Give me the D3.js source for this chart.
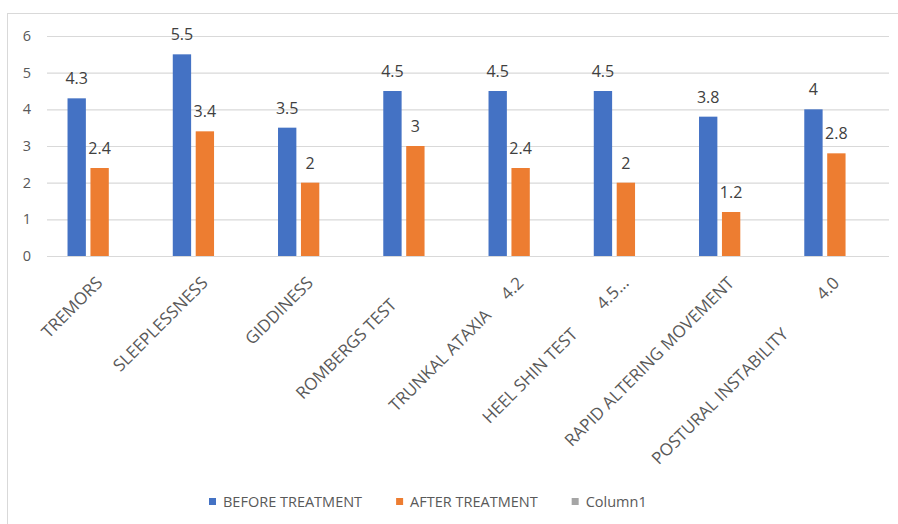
<!DOCTYPE html>
<html>
<head>
<meta charset="utf-8">
<script src="https://cdn.jsdelivr.net/npm/d3@7"></script>
<style>
  html, body { margin: 0; padding: 0; background: #fff; }
  svg { display: block; }
  text { font-family: "Open Sans", sans-serif; }
</style>
</head>
<body>
<svg id="chart" width="898" height="524"></svg>
<script>
// Symptom categories (some axis labels carry a trailing note after a run of spaces)
const categories = [
  "TREMORS",
  "SLEEPLESSNESS",
  "GIDDINESS",
  "ROMBERGS TEST       ",
  "TRUNKAL ATAXIA     4.2",
  "HEEL SHIN TEST        4.5...",
  "RAPID ALTERING MOVEMENT",
  "POSTURAL INSTABILITY           4.0"
];
const seriesNames = ["BEFORE TREATMENT", "AFTER TREATMENT", "Column1"];
const beforeTreatment = [4.3, 5.5, 3.5, 4.5, 4.5, 4.5, 3.8, 4];
const afterTreatment  = [2.4, 3.4, 2, 3, 2.4, 2, 1.2, 2.8];
const column1         = [null, null, null, null, null, null, null, null];
const yTicks = [0, 1, 2, 3, 4, 5, 6];
const seriesColors = ["#4472c4", "#ed7d31", "#a5a5a5"];

const seriesValues = [beforeTreatment, afterTreatment, column1];

const svg = d3.select("#chart");
const W = 898, H = 524;

// chart frame: top and left edges only
svg.append("line").attr("x1", 7).attr("x2", W).attr("y1", 13.5).attr("y2", 13.5)
  .attr("stroke", "#d9d9d9").attr("stroke-width", 1);
svg.append("line").attr("x1", 7.5).attr("x2", 7.5).attr("y1", 13).attr("y2", H)
  .attr("stroke", "#d9d9d9").attr("stroke-width", 1);

const plot = { left: 47, right: 889, top: 36, bottom: 256 };

const y = d3.scaleLinear().domain([0, 6]).range([plot.bottom, plot.top]);
const x0 = d3.scaleBand().domain(categories).range([plot.left, plot.right])
  .paddingInner(0.39).paddingOuter(0.195);
const x1 = d3.scaleBand().domain(seriesNames).range([0, x0.bandwidth()])
  .paddingInner(0.2).paddingOuter(0);

// horizontal gridlines + y tick labels
const yAxis = d3.axisLeft(y).tickValues(yTicks).tickSize(-(plot.right - plot.left)).tickPadding(16)
  .tickFormat(d3.format("d"));
const gy = svg.append("g").attr("transform", `translate(${plot.left},0)`).call(yAxis);
gy.select(".domain").remove();
gy.selectAll(".tick line").attr("stroke", "#d9d9d9").attr("stroke-width", 1.2);
gy.selectAll(".tick text").attr("fill", "#595959").style("font-size", "14.5px")
  .style("font-family", "'Open Sans', sans-serif");

// bars
const groups = svg.append("g").selectAll("g").data(categories).join("g")
  .attr("transform", d => `translate(${x0(d)},0)`);

seriesNames.forEach((name, si) => {
  const vals = seriesValues[si];
  groups.each(function(cat, ci) {
    const v = vals[ci];
    if (v == null) return;
    const g = d3.select(this);
    g.append("rect")
      .attr("x", x1(name))
      .attr("width", x1.bandwidth())
      .attr("y", y(v))
      .attr("height", y(0) - y(v))
      .attr("fill", seriesColors[si]);
    g.append("text")
      .attr("x", x1(name) + x1.bandwidth() / 2)
      .attr("y", y(v) - 14)
      .attr("text-anchor", "middle")
      .attr("fill", "#404040")
      .style("font-size", "16px")
      .text(v);
  });
});

// rotated category labels
const xAxis = d3.axisBottom(x0).tickSize(0).tickPadding(0);
const gx = svg.append("g").attr("transform", `translate(0,${plot.bottom})`).call(xAxis);
gx.select(".domain").remove();
gx.selectAll(".tick text")
  .attr("fill", "#595959")
  .style("font-size", "17px")
  .style("font-family", "'Open Sans', sans-serif")
  .style("white-space", "pre")
  .attr("text-anchor", "end")
  .attr("y", 0).attr("dy", 0)
  .attr("transform", "translate(4,28) rotate(-45)");

// legend
const legend = svg.append("g").attr("transform", "translate(209,502)");
let lx = 0;
seriesNames.forEach((name, i) => {
  const item = legend.append("g").attr("transform", `translate(${lx},0)`);
  item.append("rect").attr("x", 0).attr("y", -4).attr("width", 7).attr("height", 7)
    .attr("fill", seriesColors[i]);
  const t = item.append("text").attr("x", 14).attr("y", 0).attr("dy", "0.35em")
    .attr("fill", "#595959").style("font-size", "14.5px").text(name);
  lx += 14 + t.node().getComputedTextLength() + 34;
});
</script>
</body>
</html>
